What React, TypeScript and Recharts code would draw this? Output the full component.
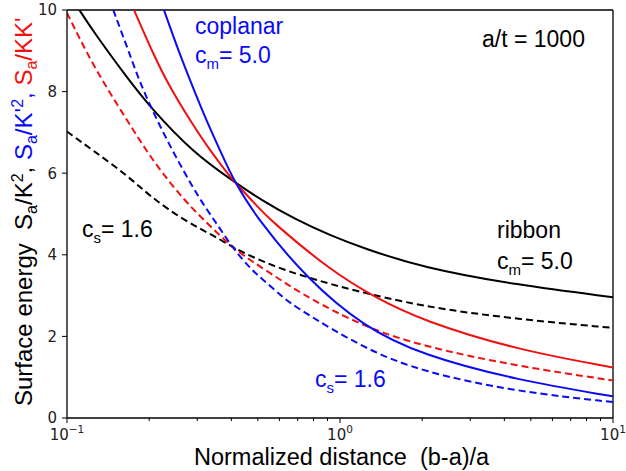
import { LineChart, Line, XAxis, YAxis, ReferenceLine } from 'recharts';

// ribbon, c_m = 5.0 (black solid)
const ribbonMX = [0.111, 0.125, 0.166, 0.201, 0.29, 0.41, 0.509, 0.694, 0.919, 1.217, 2.0, 4.44, 10];
const ribbonMY = [10, 9.47, 8.34, 7.63, 6.5, 5.79, 5.36, 4.85, 4.48, 4.16, 3.69, 3.26, 2.96];
// ribbon, c_s = 1.6 (black dashed)
const ribbonSX = [0.1, 0.125, 0.166, 0.2, 0.2667, 0.3534, 0.401, 0.468, 0.62, 0.822, 1.088, 2.0, 4.44, 10];
const ribbonSY = [7.02, 6.55, 5.95, 5.45, 4.85, 4.43, 4.2, 3.97, 3.63, 3.38, 3.15, 2.73, 2.42, 2.21];
// mixed, c_m = 5.0 (red solid)
const mixedMX = [0.176, 0.206, 0.238, 0.29, 0.334, 0.385, 0.41, 0.509, 0.554, 0.919, 1.363, 2.0, 4.44, 10];
const mixedMY = [10, 8.95, 8.1, 7.17, 6.56, 6.02, 5.79, 5.12, 4.86, 3.62, 2.93, 2.39, 1.67, 1.24];
// mixed, c_s = 1.6 (red dashed)
const mixedSX = [0.1, 0.125, 0.166, 0.2014, 0.2667, 0.3534, 0.401, 0.468, 0.62, 0.755, 1.217, 2.0, 4.44, 10];
const mixedSY = [9.93, 8.61, 7.3, 6.4, 5.34, 4.55, 4.2, 3.87, 3.34, 2.97, 2.24, 1.76, 1.27, 0.92];
// coplanar, c_m = 5.0 (blue solid)
const coplanarMX = [0.2266, 0.256, 0.2934, 0.3237, 0.367, 0.41, 0.502, 0.755, 1.217, 2.0, 4.44, 10];
const coplanarMY = [10, 9.0, 8.0, 7.3, 6.5, 5.79, 4.85, 3.42, 2.24, 1.54, 0.93, 0.53];
// coplanar, c_s = 1.6 (blue dashed)
const coplanarSX = [0.1477, 0.168, 0.19, 0.2417, 0.307, 0.3534, 0.401, 0.468, 0.524, 0.62, 0.694, 1.217, 2.0, 4.44, 10];
const coplanarSY = [10, 9.0, 8.0, 6.57, 5.34, 4.77, 4.2, 3.67, 3.38, 2.95, 2.7, 1.71, 1.13, 0.645, 0.39];

const yTicks = [0, 2, 4, 6, 8, 10];
const xMajor = [0.1, 1, 10];
const xMajorLabels = ['−1', '0', '1'];
const xTicks = [0.1, 0.2, 0.3, 0.4, 0.5, 0.6, 0.7, 0.8, 0.9, 1, 2, 3, 4, 5, 6, 7, 8, 9, 10];

const BLUE = '#0a0af5';
const RED = '#f01010';
const SANS = '"Liberation Sans", Arial, sans-serif';
const TICKFONT = '"DejaVu Sans", sans-serif';

const toRows = (xs: number[], ys: number[]) => xs.map((x, i) => ({ x, y: ys[i] }));

const series = [
  { key: 'ribbonM', data: toRows(ribbonMX, ribbonMY), color: '#000', dash: undefined },
  { key: 'ribbonS', data: toRows(ribbonSX, ribbonSY), color: '#000', dash: '7 4' },
  { key: 'mixedM', data: toRows(mixedMX, mixedMY), color: RED, dash: undefined },
  { key: 'mixedS', data: toRows(mixedSX, mixedSY), color: RED, dash: '7 4' },
  { key: 'coplanarM', data: toRows(coplanarMX, coplanarMY), color: BLUE, dash: undefined },
  { key: 'coplanarS', data: toRows(coplanarSX, coplanarSY), color: BLUE, dash: '7 4' },
];

function XTick(props: any) {
  const { x, y, payload } = props;
  const idx = xMajor.findIndex((v) => Math.abs(v - payload.value) < 1e-9);
  const major = idx >= 0;
  return (
    <g>
      <line x1={x} x2={x} y1={y} y2={y + (major ? 5 : 3)} stroke="#000" strokeWidth={1} />
      {major && (
        <text x={x} y={y + 22} textAnchor="middle" fontFamily={TICKFONT} fontSize={15} fill="#222">
          10
          <tspan dy={-7} fontSize={10.5}>{xMajorLabels[idx]}</tspan>
        </text>
      )}
    </g>
  );
}

// "c" with a subscript, then the rest of the text back on the baseline
function CSub({ sub, rest }: { sub: string; rest: string }) {
  return (
    <>
      c
      <tspan dy={6} fontSize={15}>{sub}</tspan>
      <tspan dy={-6}>{rest}</tspan>
    </>
  );
}

function Annotations() {
  return (
    <svg
      width={626}
      height={471}
      style={{ position: 'absolute', left: 0, top: 0, pointerEvents: 'none' }}
      fontFamily={SANS}
    >
      <text x={195} y={34} fontSize={23} fill={BLUE}>coplanar</text>
      <text x={195} y={63} fontSize={23} fill={BLUE}>
        <CSub sub="m" rest="= 5.0" />
      </text>
      <text x={482} y={47} fontSize={23} fill="#000">a/t = 1000</text>
      <text x={497} y={238} fontSize={23} fill="#000">ribbon</text>
      <text x={497} y={269} fontSize={23} fill="#000">
        <CSub sub="m" rest="= 5.0" />
      </text>
      <text x={82} y={237} fontSize={23} fill="#000">
        <CSub sub="s" rest="= 1.6" />
      </text>
      <text x={315} y={387} fontSize={23} fill={BLUE}>
        <CSub sub="s" rest="= 1.6" />
      </text>
      <text x={194} y={465} fontSize={23.5} fill="#000" style={{ whiteSpace: 'pre' }}>
        {'Normalized distance  (b-a)/a'}
      </text>
      <text transform="translate(32,406) rotate(-90)" fontSize={24} fill="#000" style={{ whiteSpace: 'pre' }}>
        {'Surface energy  S'}
        <tspan dy={5} fontSize={16}>a</tspan>
        <tspan dy={-5}>/K</tspan>
        <tspan dy={-9} fontSize={16}>2</tspan>
        <tspan dy={9}>, </tspan>
        <tspan fill={BLUE}>S</tspan>
        <tspan fill={BLUE} dy={5} fontSize={16}>a</tspan>
        <tspan fill={BLUE} dy={-5}>/K'</tspan>
        <tspan fill={BLUE} dy={-9} fontSize={16}>2</tspan>
        <tspan fill={BLUE} dy={9}>, </tspan>
        <tspan fill={RED}>S</tspan>
        <tspan fill={RED} dy={5} fontSize={16}>a</tspan>
        <tspan fill={RED} dy={-5}>/KK'</tspan>
      </text>
    </svg>
  );
}

export default function App() {
  return (
    <div style={{ position: 'absolute', left: 0, top: 0, width: 626, height: 471, background: '#fff' }}>
      <LineChart width={626} height={471} margin={{ top: 10, right: 13, bottom: 0, left: 0 }}>
        <XAxis
          dataKey="x"
          type="number"
          scale="log"
          domain={[0.1, 10]}
          allowDataOverflow
          ticks={xTicks}
          interval={0}
          tick={<XTick />}
          tickLine={false}
          tickSize={0}
          tickMargin={0}
          height={53}
          axisLine={{ stroke: '#000', strokeWidth: 1.3 }}
        />
        <YAxis
          type="number"
          domain={[0, 10]}
          allowDataOverflow
          ticks={yTicks}
          interval={0}
          width={67}
          tickSize={5}
          tickMargin={5}
          tick={{ fill: '#222', fontSize: 15, fontFamily: TICKFONT }}
          tickLine={{ stroke: '#000' }}
          axisLine={{ stroke: '#000', strokeWidth: 1.3 }}
        />
        <ReferenceLine y={10} stroke="#000" strokeWidth={1.3} />
        <ReferenceLine x={10} stroke="#000" strokeWidth={1.3} />
        {series.map((s) => (
          <Line
            key={s.key}
            data={s.data}
            dataKey="y"
            type="basis"
            stroke={s.color}
            strokeWidth={2}
            strokeDasharray={s.dash}
            dot={false}
            activeDot={false}
            isAnimationActive={false}
          />
        ))}
      </LineChart>
      <Annotations />
    </div>
  );
}
